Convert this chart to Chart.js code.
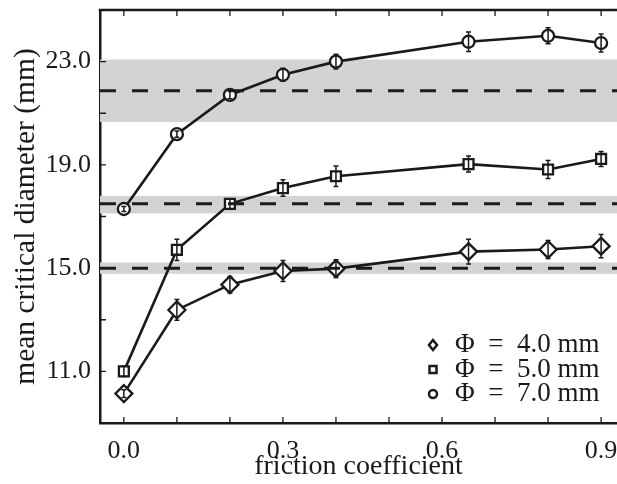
<!DOCTYPE html>
<html lang="en">
<head>
<meta charset="UTF-8">
<title>Mean critical diameter vs friction coefficient</title>
<script src="https://cdn.jsdelivr.net/npm/chart.js"></script>
<style>
  body { margin: 0; background: #fff; }
  #wrap { width: 617px; height: 484px; }
</style>
</head>
<body>
<div id="wrap"><canvas id="diameterChart"></canvas></div>
<script>
const friction = [0.0, 0.1, 0.2, 0.3, 0.4, 0.65, 0.8, 0.9];
const mean4mm = [10.14, 13.38, 14.36, 14.89, 14.98, 15.64, 15.72, 15.85];
const err4mm  = [0.15, 0.40, 0.32, 0.41, 0.34, 0.48, 0.35, 0.45];
const mean5mm = [11.0, 15.71, 17.49, 18.10, 18.56, 19.03, 18.82, 19.23];
const err5mm  = [0.20, 0.41, 0.20, 0.32, 0.40, 0.31, 0.35, 0.29];
const mean7mm = [17.29, 20.19, 21.71, 22.49, 23.0, 23.77, 24.0, 23.72];
const err7mm  = [0.10, 0.12, 0.15, 0.25, 0.29, 0.38, 0.31, 0.35];

// reference bands (mean and spread) for each wire diameter
const bandMean = [15.0, 17.49, 21.87];
const bandLow  = [14.78, 17.12, 20.66];
const bandHigh = [15.22, 17.80, 23.08];

const xRange = [-0.045, 0.93];
const yRange = [9, 25];
const xTickLabels = [0.0, 0.3, 0.6, 0.9];
const yTickLabels = [11, 15, 19, 23];
const seriesLabels = ['Φ\u2002=\u20024.0 mm', 'Φ\u2002=\u20025.0 mm', 'Φ\u2002=\u20027.0 mm'];
const seriesStyles = ['rectRot', 'rect', 'circle'];

const ink = '#1a1a1a';
const serif = '"Liberation Serif", "Times New Roman", serif';

function points(ys) {
    return friction.map((x, i) => ({ x: x, y: ys[i] }));
}

function series(label, ys, errs, style, radius) {
    return {
        label: label,
        data: points(ys),
        errors: errs,
        borderColor: ink,
        borderWidth: 2.6,
        backgroundColor: '#fff',
        pointStyle: style,
        pointRadius: radius,
        pointBorderWidth: 2.3,
        pointBackgroundColor: '#fff',
        pointBorderColor: ink,
        tension: 0
    };
}

function bandLine(m) {
    return {
        data: [{ x: xRange[0], y: m }, { x: xRange[1], y: m }],
        borderColor: ink,
        borderWidth: 3,
        borderDash: [16, 16],
        pointRadius: 0
    };
}

// chart area edges are fixed by hand, so drop the label overhang padding
function fixScale(s, size) {
    if (s.isHorizontal()) s.height = size; else s.width = size;
    s.paddingLeft = 0;
    s.paddingRight = 0;
    s.paddingTop = 0;
    s.paddingBottom = 0;
}

const bandPlugin = {
    id: 'bands',
    beforeDatasetsDraw(chart) {
        const { ctx, chartArea: a, scales: { y } } = chart;
        ctx.save();
        ctx.fillStyle = '#d3d3d5';
        bandLow.forEach((lo, i) => {
            const top = y.getPixelForValue(bandHigh[i]);
            const bot = y.getPixelForValue(lo);
            ctx.fillRect(a.left, top, a.right - a.left, bot - top);
        });
        ctx.restore();
    }
};

const errorBarPlugin = {
    id: 'errorBars',
    afterDatasetsDraw(chart) {
        const { ctx, scales: { x, y } } = chart;
        ctx.save();
        ctx.strokeStyle = ink;
        ctx.lineWidth = 1.5;
        chart.data.datasets.forEach(ds => {
            if (!ds.errors) return;
            ds.data.forEach((p, i) => {
                const px = x.getPixelForValue(p.x);
                const top = y.getPixelForValue(p.y + ds.errors[i]);
                const bot = y.getPixelForValue(p.y - ds.errors[i]);
                ctx.beginPath();
                ctx.moveTo(px, top); ctx.lineTo(px, bot);
                ctx.moveTo(px - 2.5, top); ctx.lineTo(px + 2.5, top);
                ctx.moveTo(px - 2.5, bot); ctx.lineTo(px + 2.5, bot);
                ctx.stroke();
            });
        });
        ctx.restore();
    }
};

function legendMarker(ctx, style, cx, cy) {
    ctx.beginPath();
    if (style === 'rectRot') {
        ctx.moveTo(cx, cy - 5); ctx.lineTo(cx + 4, cy); ctx.lineTo(cx, cy + 5); ctx.lineTo(cx - 4, cy);
        ctx.closePath();
    } else if (style === 'rect') {
        ctx.rect(cx - 3.5, cy - 3.5, 7, 7);
    } else {
        ctx.arc(cx, cy, 4, 0, Math.PI * 2);
    }
    ctx.stroke();
}

// inward ticks, top frame and the legend in the lower right corner
const framePlugin = {
    id: 'frame',
    afterDraw(chart) {
        const { ctx, chartArea: a, scales: { x, y } } = chart;
        ctx.save();
        ctx.strokeStyle = ink;
        ctx.lineWidth = 1.3;
        ctx.beginPath();
        x.ticks.forEach(t => {
            const px = x.getPixelForValue(t.value);
            ctx.moveTo(px, a.bottom); ctx.lineTo(px, a.bottom - 6);
            ctx.moveTo(px, a.top); ctx.lineTo(px, a.top + 6);
        });
        y.ticks.forEach(t => {
            const py = y.getPixelForValue(t.value);
            ctx.moveTo(a.left, py); ctx.lineTo(a.left + 6, py);
        });
        ctx.stroke();

        ctx.lineWidth = 2.5;
        ctx.beginPath();
        ctx.moveTo(a.left - 1.25, a.top); ctx.lineTo(a.right, a.top);
        ctx.stroke();

        ctx.font = '27px ' + serif;
        ctx.fillStyle = ink;
        ctx.textBaseline = 'middle';
        ctx.textAlign = 'left';
        ctx.lineWidth = 2.5;
        seriesLabels.forEach((label, i) => {
            const ly = a.bottom - 78 + i * 24.5;
            legendMarker(ctx, seriesStyles[i], a.right - 184, ly);
            ctx.fillText(label, a.right - 162, ly);
        });
        ctx.restore();
    }
};

const ctx = document.getElementById('diameterChart').getContext('2d');
new Chart(ctx, {
    type: 'line',
    data: {
        datasets: [
            bandLine(bandMean[0]),
            bandLine(bandMean[1]),
            bandLine(bandMean[2]),
            series(seriesLabels[0], mean4mm, err4mm, seriesStyles[0], 8.5),
            series(seriesLabels[1], mean5mm, err5mm, seriesStyles[1], 7),
            series(seriesLabels[2], mean7mm, err7mm, seriesStyles[2], 6)
        ]
    },
    options: {
        animation: false,
        responsive: true,
        maintainAspectRatio: false,
        // no automatic room for the markers: the plot runs to the right edge
        layout: { autoPadding: false, padding: { top: 10, right: 0, left: 0, bottom: 0 } },
        plugins: {
            legend: { display: false },
            tooltip: { enabled: false }
        },
        scales: {
            x: {
                type: 'linear',
                min: xRange[0],
                max: xRange[1],
                grid: { display: false, drawTicks: false },
                border: { display: true, width: 2.5, color: ink },
                ticks: {
                    stepSize: 0.1,
                    includeBounds: false,
                    autoSkip: false,
                    maxRotation: 0,
                    padding: 13,
                    color: ink,
                    font: { family: serif, size: 26 },
                    callback: v => xTickLabels.some(t => Math.abs(t - v) < 1e-6) ? v.toFixed(1) : ''
                },
                title: {
                    display: true,
                    text: 'friction coefficient',
                    color: ink,
                    font: { family: serif, size: 28, lineHeight: 1.2 },
                    padding: { top: 0, bottom: 1 }
                },
                afterFit: s => fixScale(s, 61)
            },
            y: {
                type: 'linear',
                min: yRange[0],
                max: yRange[1],
                grid: { display: false, drawTicks: false },
                border: { display: true, width: 2.5, color: ink },
                ticks: {
                    stepSize: 2,
                    includeBounds: false,
                    autoSkip: false,
                    padding: 9,
                    color: ink,
                    font: { family: serif, size: 26 },
                    callback: v => yTickLabels.includes(v) ? v.toFixed(1) : ''
                },
                title: {
                    display: true,
                    text: 'mean critical diameter (mm)',
                    color: ink,
                    font: { family: serif, size: 29.5, lineHeight: 1.2 },
                    padding: { top: 9, bottom: 0 }
                },
                afterFit: s => fixScale(s, 100)
            }
        }
    },
    plugins: [bandPlugin, errorBarPlugin, framePlugin]
});
</script>
</body>
</html>
